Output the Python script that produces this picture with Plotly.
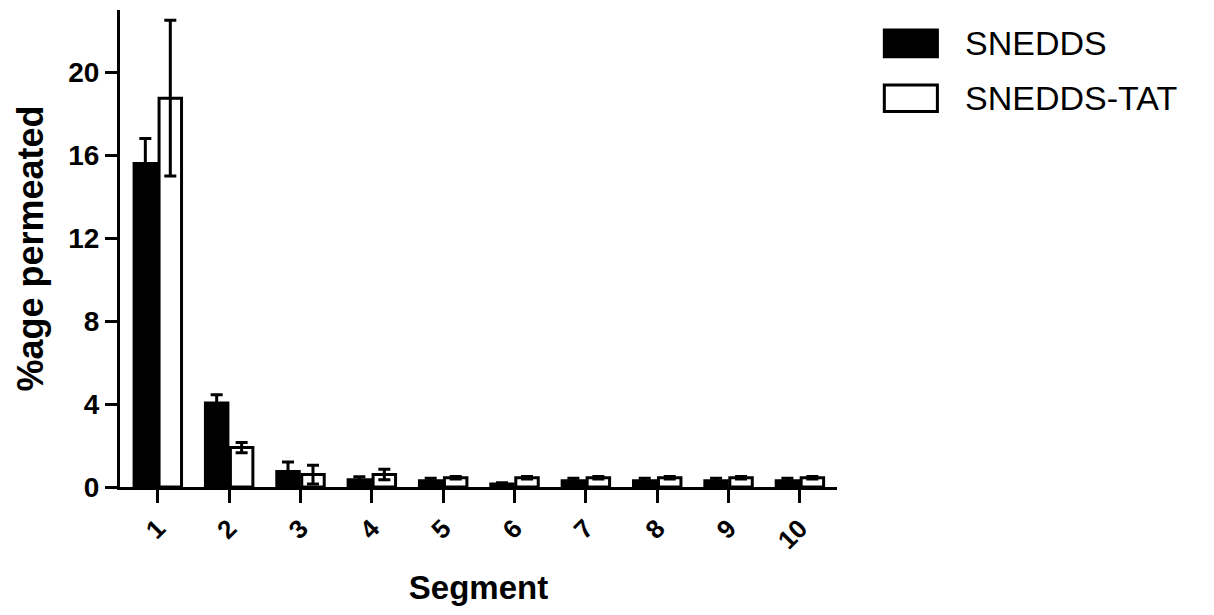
import plotly.graph_objects as go

segments = [1, 2, 3, 4, 5, 6, 7, 8, 9, 10]
tick_labels = ["1", "2", "3", "4", "5", "6", "7", "8", "9", "10"]
series_names = ["SNEDDS", "SNEDDS-TAT"]
snedds = [15.6, 4.05, 0.75, 0.35, 0.3, 0.15, 0.3, 0.3, 0.3, 0.3]
snedds_sd = [1.2, 0.4, 0.45, 0.15, 0.12, 0.05, 0.12, 0.12, 0.12, 0.12]
tat = [18.75, 1.9, 0.6, 0.6, 0.45, 0.45, 0.45, 0.45, 0.45, 0.45]
tat_sd = [3.75, 0.25, 0.45, 0.25, 0.06, 0.06, 0.06, 0.06, 0.06, 0.06]
y_ticks = [0, 4, 8, 12, 16, 20]

FONT = "Arial, Liberation Sans, sans-serif"

fig = go.Figure()
fig.add_trace(go.Bar(
    x=segments, y=snedds, name=series_names[0],
    marker=dict(color="black", line=dict(color="black", width=3)),
    error_y=dict(type="data", array=snedds_sd, visible=True, color="black", thickness=3, width=6),
    showlegend=False,
))
fig.add_trace(go.Bar(
    x=segments, y=tat, name=series_names[1],
    marker=dict(color="white", line=dict(color="black", width=3)),
    error_y=dict(type="data", array=tat_sd, visible=True, color="black", thickness=3, width=6),
    showlegend=False,
))

# custom legend (large swatches as in the reference)
legend_fills = ["black", "white"]
legend_y = [0.93, 0.815]
for name, fill, yc in zip(series_names, legend_fills, legend_y):
    fig.add_shape(type="rect", xref="paper", yref="paper",
                  x0=1.066, x1=1.14, y0=yc - 0.028, y1=yc + 0.028,
                  fillcolor=fill, line=dict(color="black", width=3))
    fig.add_annotation(xref="paper", yref="paper", x=1.176, y=yc, text=name,
                       showarrow=False, xanchor="left", yanchor="middle",
                       font=dict(family=FONT, size=34, color="black"))

fig.update_layout(
    width=1214, height=615,
    margin=dict(l=112, r=385, t=2, b=136),
    paper_bgcolor="white", plot_bgcolor="white",
    barmode="group", bargap=0.3, bargroupgap=0.1,
    font=dict(family=FONT, color="black"),
)
fig.update_xaxes(
    range=[0.47, 10.52], tickmode="array", tickvals=segments, ticktext=tick_labels,
    tickangle=-45, ticks="outside", ticklen=13, tickwidth=3, tickcolor="black",
    showline=True, linecolor="black", linewidth=3, showgrid=False, zeroline=False,
    tickfont=dict(family=FONT, size=26, color="black", weight="bold"),
    title=dict(text="<b>Segment</b>", font=dict(family=FONT, size=33, color="black"), standoff=22),
)
fig.update_yaxes(
    range=[0, 23], tickmode="array", tickvals=y_ticks,
    ticks="outside", ticklen=12, tickwidth=3, tickcolor="black",
    showline=True, linecolor="black", linewidth=3, showgrid=False, zeroline=False,
    tickfont=dict(family=FONT, size=28, color="black", weight="bold"),
    title=dict(text="<b>%age permeated</b>", font=dict(family=FONT, size=36, color="black"), standoff=14),
)

fig.write_html("out.html")
